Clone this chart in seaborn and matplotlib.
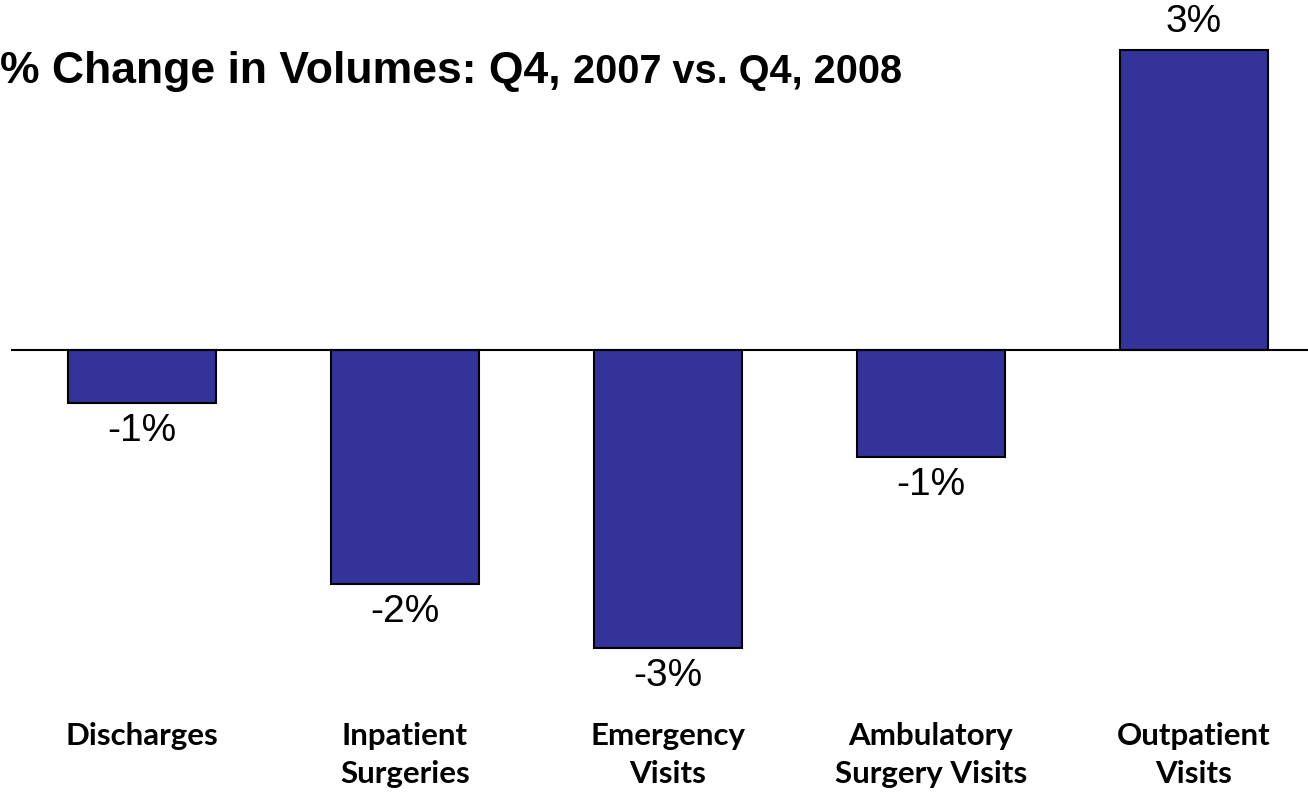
import seaborn as sns
import pandas as pd
import matplotlib
matplotlib.use('Agg')
import matplotlib.pyplot as plt

categorie = ['Discharges', 'Inpatient\nSurgeries', 'Emergency\nVisits',
             'Ambulatory\nSurgery Visits', 'Outpatient\nVisits']
variazioni = [-0.53, -2.34, -2.98, -1.07, 3.0]
etichette = ['-1%', '-2%', '-3%', '-1%', '3%']

df = pd.DataFrame({'categoria': categorie, 'variazione': variazioni})

sns.set_style('white')
plt.rcParams['font.family'] = ['Liberation Sans', 'DejaVu Sans']
plt.rcParams['text.color'] = 'black'
plt.rcParams['xtick.color'] = 'black'

fig = plt.figure(figsize=(13.08, 8.06), dpi=100)
ax = fig.add_axes([10.5 / 1308, 116 / 806, 1 - 10.5 / 1308, 690 / 806])

sns.barplot(data=df, x='categoria', y='variazione', color='#333399',
            saturation=1, width=0.56, edgecolor='black', linewidth=1.5, ax=ax)

ax.set_xlim(-0.5, 4.434)
ax.set_ylim(-3.4, 3.5)
ax.axhline(0, color='black', linewidth=1.5, zorder=5)
for s in ax.spines.values():
    s.set_visible(False)
ax.set_yticks([])
ax.set_xlabel('')
ax.set_ylabel('')
ax.tick_params(axis='x', length=0, pad=23)
for lab in ax.get_xticklabels():
    lab.set_fontfamily(['Lato', 'DejaVu Sans'])
    lab.set_fontweight('bold')
    lab.set_fontsize(22.5)
    lab.set_linespacing(1.45)
    lab.set_verticalalignment('top')
    lab.set_color('black')

ax.bar_label(ax.containers[0], labels=etichette, padding=7, fontsize=28, color='black')

y_titolo = 1 - 83 / 806
t1 = fig.text(0, y_titolo, '% Change in Volumes: Q4, ', fontsize=32,
              fontweight='bold', va='baseline', ha='left', color='black')
fig.canvas.draw()
bb = t1.get_window_extent()
fig.text(bb.x1 / fig.bbox.width, y_titolo, '2007 vs. Q4, 2008', fontsize=28.5,
         fontweight='bold', va='baseline', ha='left', color='black')

fig.savefig('out.png', dpi=100)
